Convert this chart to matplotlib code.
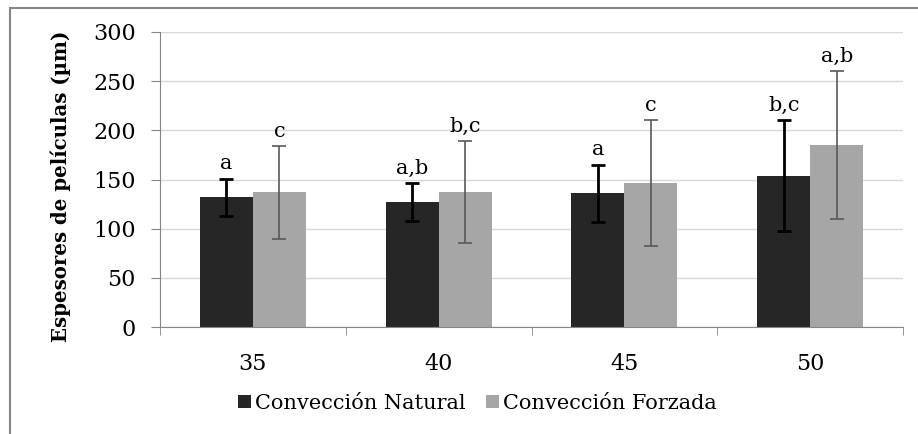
import matplotlib
matplotlib.use("Agg")
import matplotlib.pyplot as plt
import numpy as np
from matplotlib.patches import Rectangle

temps = ["35", "40", "45", "50"]
natural = [132, 127, 136, 154]
natural_err = [19, 19, 29, 56]
forzada = [137, 137, 146, 185]
forzada_err = [47, 52, 64, 75]
natural_lbl = ["a", "a,b", "a", "b,c"]
forzada_lbl = ["c", "b,c", "c", "a,b"]

plt.rcParams["font.family"] = ["DejaVu Serif"]

fig = plt.figure(figsize=(9.18, 4.34), dpi=100)
ax = fig.add_axes([0.1743, 0.2465, 0.8094, 0.6798])

x = np.arange(len(temps))
w = 0.285
ax.bar(x - w / 2, natural, w, color="#262626", label="Convección Natural", zorder=2)
ax.bar(x + w / 2, forzada, w, color="#a6a6a6", label="Convección Forzada", zorder=2)
ax.errorbar(x - w / 2, natural, yerr=natural_err, fmt="none", ecolor="black",
            elinewidth=2, capsize=5, capthick=2, zorder=3)
ax.errorbar(x + w / 2, forzada, yerr=forzada_err, fmt="none", ecolor="#595959",
            elinewidth=1.2, capsize=5, capthick=1.2, zorder=3)

for i in range(len(temps)):
    ax.annotate(natural_lbl[i], (x[i] - w / 2, natural[i] + natural_err[i]),
                xytext=(0, 4), textcoords="offset points", ha="center", va="bottom", fontsize=15)
    ax.annotate(forzada_lbl[i], (x[i] + w / 2, forzada[i] + forzada_err[i]),
                xytext=(0, 4), textcoords="offset points", ha="center", va="bottom", fontsize=15)

ax.set_xlim(-0.5, len(temps) - 0.5)
ax.set_ylim(0, 300)
ax.set_yticks(range(0, 301, 50))
ax.tick_params(axis="y", labelsize=16, length=6.5, color="#868686", pad=11)
ax.set_xticks(x)
ax.set_xticklabels(temps, fontsize=16)
ax.set_xticks(np.arange(-0.5, len(temps)), minor=True)
ax.tick_params(axis="x", which="major", length=0, pad=19)
ax.tick_params(axis="x", which="minor", length=6, color="#868686")
ax.grid(axis="y", color="#d9d9d9", linewidth=1, zorder=0)
for s in ["top", "right"]:
    ax.spines[s].set_visible(False)
for s in ["left", "bottom"]:
    ax.spines[s].set_color("#868686")
ax.set_ylabel("Espesores de películas (µm)", fontsize=14.2, fontweight="bold")
ax.yaxis.set_label_coords(-0.12, 0.478)

fig.legend(*ax.get_legend_handles_labels(), loc="center", bbox_to_anchor=(0.52, 0.07), ncol=2,
           frameon=False, fontsize=15, handlelength=0.6, handleheight=0.6,
           handletextpad=0.2, columnspacing=1.0)

fig.patches.append(Rectangle((10 / 918, -0.1), 1.2, 1.1 - 8 / 434, transform=fig.transFigure,
                             fill=False, edgecolor="#868686", linewidth=1.5))

fig.savefig("out.png", dpi=100)
plt.close(fig)
